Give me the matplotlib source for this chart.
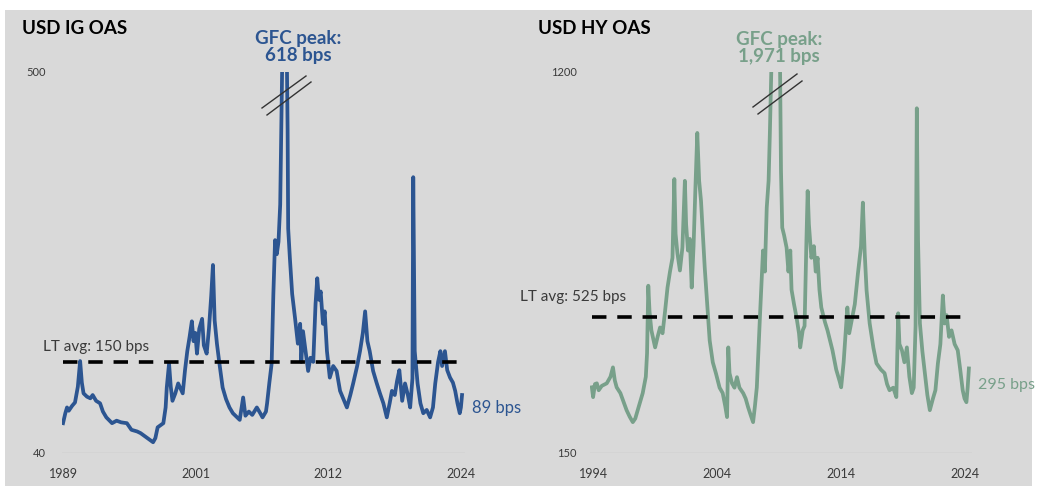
import matplotlib
matplotlib.use('Agg')
import matplotlib.pyplot as plt
from matplotlib.patches import Rectangle
from matplotlib.lines import Line2D
import numpy as np

plt.rcParams['font.family'] = ['Lato', 'DejaVu Sans']

# USD IG OAS, bps
ig_year = [1989.5, 1989.7, 1989.85, 1990.0, 1990.3, 1990.55, 1990.8, 1991.0, 1991.15, 1991.3,
           1991.6, 1991.9, 1992.1, 1992.4, 1992.75, 1993.0, 1993.3, 1993.8, 1994.2, 1994.6,
           1995.1, 1995.5, 1996.0, 1996.3, 1996.7, 1997.1, 1997.4, 1997.6, 1997.8, 1998.1,
           1998.3, 1998.5, 1998.6, 1998.8, 1998.95, 1999.1, 1999.35, 1999.6, 1999.8, 2000.0,
           2000.2, 2000.4, 2000.6, 2000.8, 2000.95, 2001.1, 2001.25, 2001.45, 2001.7, 2001.85,
           2002.1, 2002.3, 2002.5, 2002.65, 2002.8, 2003.0, 2003.2, 2003.5, 2003.8, 2004.1,
           2004.4, 2004.7, 2005.0, 2005.3, 2005.5, 2005.8, 2006.1, 2006.5, 2006.8, 2007.0,
           2007.3, 2007.4, 2007.6, 2007.8, 2007.95, 2008.1, 2008.25, 2008.4, 2008.55, 2008.7,
           2008.8, 2008.95, 2009.1, 2009.2, 2009.25, 2009.4, 2009.6, 2009.85, 2010.1, 2010.3,
           2010.4, 2010.55, 2010.8, 2011.0, 2011.2, 2011.45, 2011.65, 2011.8, 2011.95, 2012.1,
           2012.3, 2012.45, 2012.65, 2012.9, 2013.2, 2013.5, 2013.8, 2014.1, 2014.4, 2014.7,
           2014.95, 2015.3, 2015.55, 2015.8, 2016.0, 2016.2, 2016.4, 2016.7, 2017.0, 2017.3,
           2017.6, 2017.9, 2018.15, 2018.35, 2018.6, 2018.8, 2019.0, 2019.25, 2019.5, 2019.75,
           2019.95, 2020.15, 2020.22, 2020.3, 2020.35, 2020.6, 2020.85, 2021.1, 2021.4, 2021.7,
           2021.95, 2022.15, 2022.4, 2022.6, 2022.75, 2023.0, 2023.2, 2023.45, 2023.7, 2023.9,
           2024.1, 2024.3, 2024.4, 2024.5]
ig_oas = [76, 88, 95, 91, 97, 101, 120, 151, 125, 112,
          108, 106, 110, 103, 100, 90, 83, 76, 79, 77,
          76, 68, 66, 64, 60, 56, 53, 58, 71, 74,
          76, 95, 119, 148, 120, 103, 112, 124, 118, 112,
          140, 163, 180, 199, 175, 185, 160, 190, 202, 170,
          160, 190, 230, 267, 200, 172, 150, 119, 105, 95,
          88, 84, 80, 107, 85, 90, 86, 95, 88, 83,
          90, 100, 125, 148, 232, 297, 280, 295, 340, 480,
          580, 618, 560, 430, 311, 275, 232, 203, 172, 196,
          150, 187, 160, 139, 155, 150, 220, 251, 225, 235,
          196, 211, 163, 131, 145, 139, 115, 105, 95, 110,
          124, 145, 163, 185, 211, 175, 163, 139, 125, 112,
          100, 83, 100, 115, 110, 127, 140, 103, 124, 110,
          95, 130, 373, 250, 163, 124, 100, 88, 92, 83,
          95, 124, 150, 163, 145, 163, 140, 131, 125, 115,
          100, 88, 95, 110]

# USD HY OAS, bps
hy_year = [1994.0, 1994.1, 1994.25, 1994.4, 1994.55, 1994.8, 1995.2, 1995.5, 1995.7, 1995.85,
           1996.0, 1996.3, 1996.8, 1997.05, 1997.3, 1997.5, 1997.7, 1997.9, 1998.1, 1998.35,
           1998.45, 1998.55, 1998.65, 1998.8, 1999.1, 1999.3, 1999.5, 1999.7, 1999.9, 2000.1,
           2000.3, 2000.5, 2000.65, 2000.75, 2000.9, 2001.1, 2001.3, 2001.5, 2001.6, 2001.75,
           2001.9, 2002.05, 2002.2, 2002.35, 2002.5, 2002.65, 2002.8, 2003.1, 2003.3, 2003.5,
           2003.75, 2004.0, 2004.3, 2004.55, 2004.75, 2004.9, 2005.0, 2005.1, 2005.3, 2005.5,
           2005.7, 2005.9, 2006.2, 2006.4, 2006.6, 2006.8, 2007.0, 2007.15, 2007.3, 2007.55,
           2007.8, 2007.95, 2008.1, 2008.25, 2008.35, 2008.5, 2008.7, 2008.9, 2009.0, 2009.15,
           2009.25, 2009.35, 2009.5, 2009.7, 2009.85, 2010.0, 2010.1, 2010.3, 2010.5, 2010.7,
           2010.8, 2011.0, 2011.15, 2011.3, 2011.4, 2011.5, 2011.7, 2011.9, 2012.05, 2012.2,
           2012.35, 2012.5, 2012.8, 2013.0, 2013.2, 2013.4, 2013.7, 2014.0, 2014.1, 2014.3,
           2014.6, 2014.75, 2014.9, 2015.2, 2015.45, 2015.7, 2015.85, 2016.0, 2016.15, 2016.4,
           2016.7, 2016.95, 2017.3, 2017.6, 2017.8, 2018.0, 2018.3, 2018.55, 2018.7, 2018.8,
           2019.0, 2019.2, 2019.4, 2019.6, 2019.8, 2019.95, 2020.1, 2020.2, 2020.3, 2020.45,
           2020.65, 2020.85, 2021.05, 2021.25, 2021.5, 2021.7, 2021.9, 2022.1, 2022.3, 2022.45,
           2022.6, 2022.8, 2023.0, 2023.25, 2023.5, 2023.7, 2023.9, 2024.05, 2024.2, 2024.3,
           2024.4]
hy_oas = [331, 304, 340, 342, 323, 335, 342, 360, 386, 350,
          331, 315, 268, 250, 235, 245, 268, 290, 315, 360,
          425, 611, 540, 488, 441, 470, 496, 480, 540, 606,
          650, 688, 905, 754, 700, 653, 716, 900, 780, 708,
          740, 606, 720, 881, 1032, 900, 845, 661, 560, 460,
          400, 370, 330, 315, 280, 249, 441, 370, 342, 330,
          359, 330, 315, 300, 276, 255, 235, 280, 331, 524,
          708, 650, 826, 900, 1029, 1250, 1800, 1971, 1700, 1300,
          927, 771, 750, 716, 650, 708, 600, 560, 524, 480,
          441, 488, 500, 735, 872, 780, 688, 720, 650, 688,
          600, 551, 510, 488, 460, 433, 380, 345, 331, 400,
          551, 480, 507, 560, 644, 720, 840, 700, 598, 507,
          440, 397, 380, 370, 340, 323, 330, 304, 535, 450,
          433, 400, 441, 360, 315, 330, 500, 1100, 735, 507,
          430, 370, 310, 268, 300, 323, 397, 450, 584, 507,
          530, 470, 488, 450, 433, 380, 323, 300, 290, 330,
          383]

ig_avg = 150
hy_avg = 525
ig_ticks = ['1989', '2001', '2012', '2024']
hy_ticks = ['1994', '2004', '2014', '2024']

W, H = 1042, 486
fig = plt.figure(figsize=(W / 100, H / 100), dpi=100, facecolor='white')
fig.patches.append(Rectangle((5 / W, 0), 1027 / W, 476 / H, transform=fig.transFigure,
                             facecolor='#d9d9d9', edgecolor='none', zorder=-10))

blue = '#2c5591'
green = '#78a08a'
txt = '#3a3a3a'


def px(x, y):
    return x / W, 1 - y / H


def panel(left, right, xlim, ylim, years, vals, color, avg, tick_pos, tick_lab,
          ylab_x, break_lines):
    ax = fig.add_axes([left / W, 33 / H, (right - left) / W, 381 / H])
    ax.set_facecolor('none')
    ax.plot(years, vals, color=color, lw=2.7, solid_joinstyle='round', zorder=3)
    ax.axhline(ylim[0], color='#c4c4c4', lw=1, zorder=1)
    ax.hlines(avg, years[0], years[-1], colors='black', linestyles=(0, (4.0, 3.0)),
              lw=2.6, zorder=4)
    ax.set_xlim(*xlim)
    ax.set_ylim(*ylim)
    for s in ax.spines.values():
        s.set_visible(False)
    ax.set_yticks([])
    ax.set_xticks(np.linspace(tick_pos[0], tick_pos[1], 4))
    ax.set_xticklabels(tick_lab, fontsize=9, color=txt)
    ax.tick_params(axis='x', length=0, pad=11)
    ax.text(ylab_x, ylim[1], f'{ylim[1]:g}', transform=ax.get_yaxis_transform(),
            ha='right', va='center', fontsize=8, color=txt)
    ax.text(ylab_x, ylim[0], f'{ylim[0]:g}', transform=ax.get_yaxis_transform(),
            ha='right', va='center', fontsize=8, color=txt)
    for (x0, y0, x1, y1) in break_lines:
        fig.add_artist(Line2D([x0 / W, x1 / W], [1 - y0 / H, 1 - y1 / H],
                              transform=fig.transFigure, color='#333333', lw=1.0, zorder=6))
    return ax


ax1 = panel(62, 465, (1989.41, 2024.76), (40, 500), ig_year, ig_oas, blue, ig_avg,
            (1989.5, 2024.4), ig_ticks, -0.04,
            [(262, 108, 306, 76), (267, 115, 311, 82)])
ax2 = panel(590, 972, (1993.85, 2024.65), (150, 1200), hy_year, hy_oas, green, hy_avg,
            (1994.1, 2024.1), hy_ticks, -0.035,
            [(753, 107, 797, 74), (758, 114, 802, 81)])

# Titles
fig.text(*px(22, 29), 'USD IG OAS', fontsize=13.5, fontweight='bold', color='black',
         va='center', ha='left')
fig.text(*px(538, 29), 'USD HY OAS', fontsize=13.5, fontweight='bold', color='black',
         va='center', ha='left')

# GFC peaks
fig.text(*px(298, 47), 'GFC peak:\n618 bps', fontsize=13.5, fontweight='bold', color=blue,
         ha='center', va='center', linespacing=1.0)
fig.text(*px(779, 48), 'GFC peak:\n1,971 bps', fontsize=13.5, fontweight='bold', color=green,
         ha='center', va='center', linespacing=1.0)

# LT averages
fig.text(*px(43, 347), 'LT avg: 150 bps', fontsize=11, color=txt, ha='left', va='center')
fig.text(*px(520, 297), 'LT avg: 525 bps', fontsize=11, color=txt, ha='left', va='center')

# Latest values
fig.text(*px(472, 408), '89 bps', fontsize=12, color=blue, ha='left', va='center')
fig.text(*px(978, 385), '295 bps', fontsize=11.5, color=green, ha='left', va='center')

fig.savefig('out.png', dpi=100, facecolor=fig.get_facecolor())
